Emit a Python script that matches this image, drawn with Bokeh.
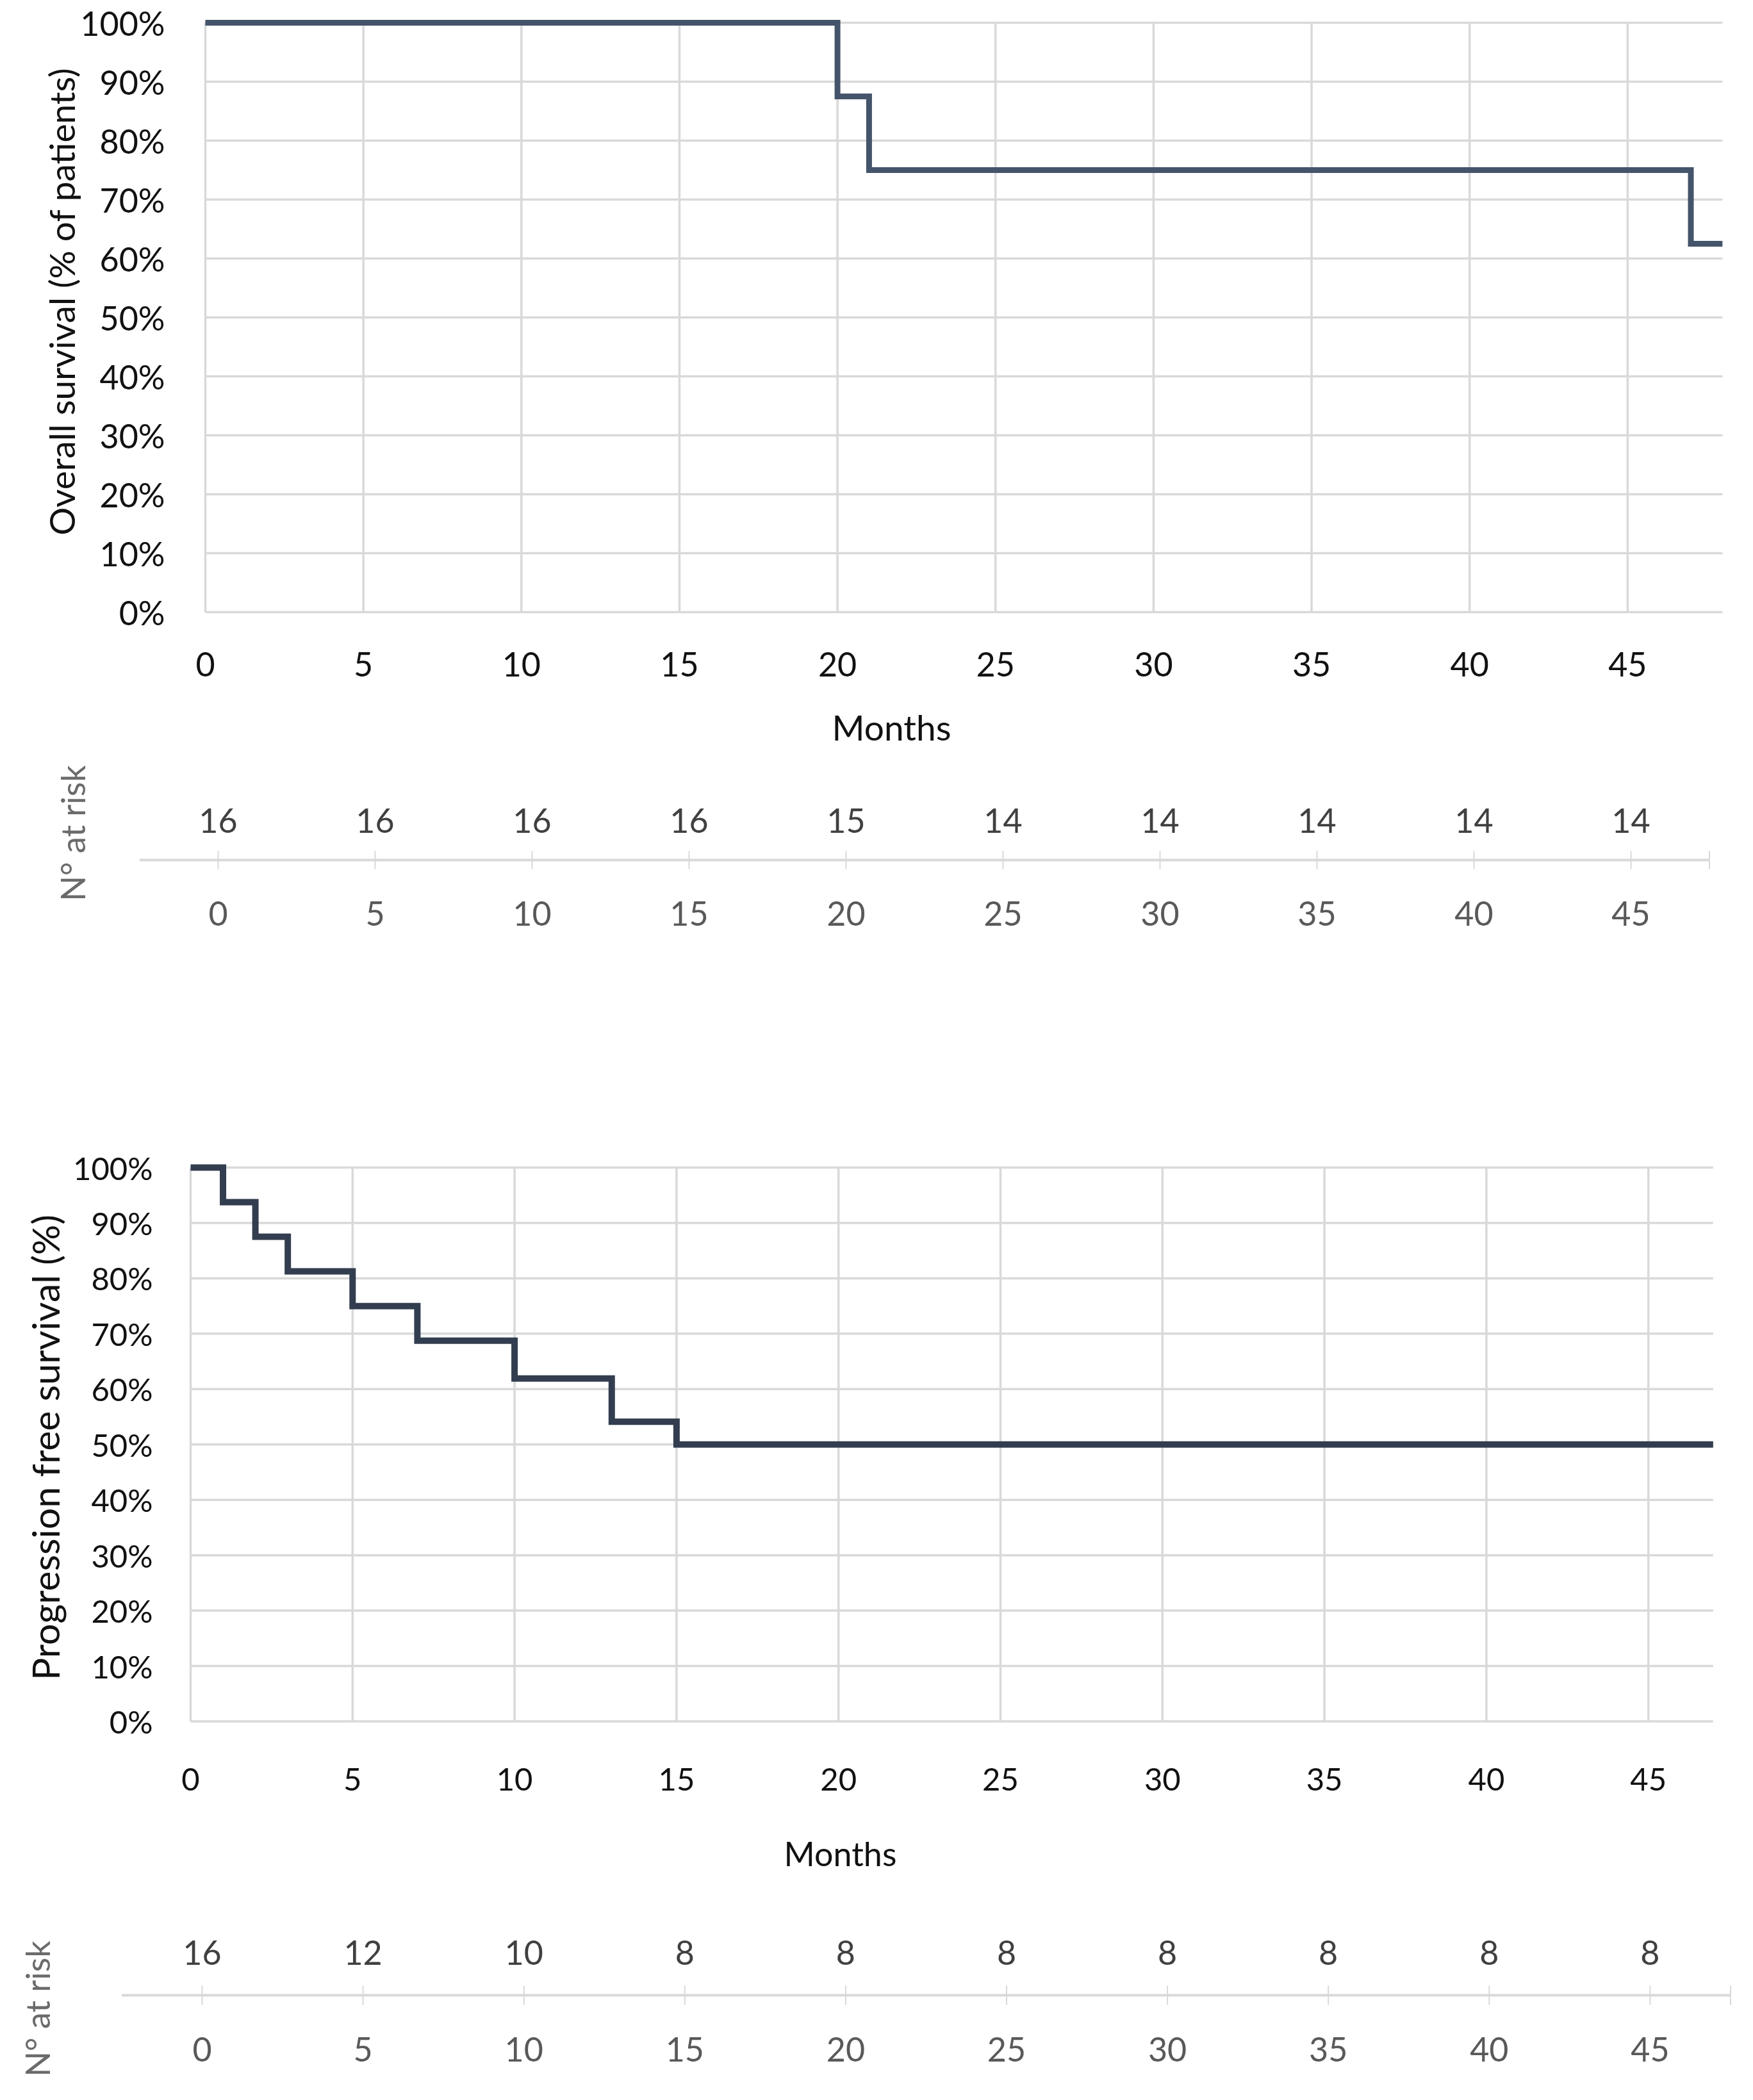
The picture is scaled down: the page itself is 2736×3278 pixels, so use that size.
import math
from bokeh.plotting import figure
from bokeh.models import Range1d
from bokeh.layouts import column
from bokeh.embed import file_html
from bokeh.resources import INLINE
from bokeh.core.properties import value

# ---------------- data ----------------
os_time = [0, 20, 21, 47, 48]
os_surv = [1.0, 0.875, 0.75, 0.625, 0.625]

pfs_time = [0, 1, 2, 3, 5, 7, 10, 13, 15, 47]
pfs_surv = [1.0, 0.9375, 0.875, 0.8125, 0.75, 0.6875, 0.619, 0.541, 0.50, 0.50]

risk_months = [0, 5, 10, 15, 20, 25, 30, 35, 40, 45]
os_at_risk = [16, 16, 16, 16, 15, 14, 14, 14, 14, 14]
pfs_at_risk = [16, 12, 10, 8, 8, 8, 8, 8, 8, 8]

x_ticks = [0, 5, 10, 15, 20, 25, 30, 35, 40, 45]
x_tick_labels = ["0", "5", "10", "15", "20", "25", "30", "35", "40", "45"]
y_ticks = [0.0, 0.1, 0.2, 0.3, 0.4, 0.5, 0.6, 0.7, 0.8, 0.9, 1.0]
y_tick_labels = ["0%", "10%", "20%", "30%", "40%", "50%", "60%", "70%", "80%", "90%", "100%"]

os_ytitle = "Overall survival (% of patients)"
pfs_ytitle = "Progression free survival (%)"
xtitle = "Months"
risk_title = "N° at risk"

# ---------------- style ----------------
FONT = "Lato"
GRID = "#D9D9D9"
TXT = "#111111"
PAGE_L, PAGE_R = 0, 2720
W = PAGE_R - PAGE_L


class Panel:
    """One figure; maps page pixels to data coordinates (x0: page x of month 0,
    sx: px per month, y0: page y of value 0, sy: px per unit)."""

    def __init__(self, top, bottom, x0, sx, y0, sy):
        self.x0, self.sx, self.y0, self.sy = x0, sx, y0, sy
        self.fig = figure(width=W, height=bottom - top,
                          x_range=Range1d((PAGE_L - x0) / sx, (PAGE_R - x0) / sx),
                          y_range=Range1d((y0 - bottom) / sy, (y0 - top) / sy),
                          x_axis_type=None, y_axis_type=None, min_border=0,
                          output_backend="svg", toolbar_location=None)
        self.fig.outline_line_color = None
        self.fig.grid.visible = False

    def px(self, page_x):
        return (page_x - self.x0) / self.sx

    def py(self, page_y):
        return (self.y0 - page_y) / self.sy

    def text(self, x, y, txt, size, color=TXT, align="center", angle=0.0):
        self.fig.text(x=x, y=y, text=txt, angle=angle, text_font=value(FONT),
                      text_font_size=value(size), text_color=color,
                      text_align=align, text_baseline="middle")


def km_chart(panel, time, surv, xmax, ytitle, line_color, line_w, tick_fs, title_fs,
             months_fs, xlab_y, ylab_right, ytitle_xy, months_xy):
    p = panel.fig
    n = len(x_ticks)
    m = len(y_ticks)
    p.segment(x0=x_ticks, x1=x_ticks, y0=[0] * n, y1=[1] * n,
              line_color=GRID, line_width=3.5)
    p.segment(x0=[0] * m, x1=[xmax] * m, y0=y_ticks, y1=y_ticks,
              line_color=GRID, line_width=3.5)
    p.step(time, surv, mode="after", line_color=line_color, line_width=line_w,
           line_join="miter")
    panel.text(x_ticks, [panel.py(xlab_y)] * n, x_tick_labels, tick_fs)
    panel.text([panel.px(ylab_right)] * m, y_ticks, y_tick_labels, tick_fs, align="right")
    panel.text([panel.px(ytitle_xy[0])], [panel.py(ytitle_xy[1])], [ytitle], title_fs,
               angle=math.pi / 2)
    panel.text([panel.px(months_xy[0])], [panel.py(months_xy[1])], [xtitle], months_fs)


def risk_table(panel, counts, lab_y, tick_h, title_xy):
    p = panel.fig
    n = len(risk_months)
    ends = [-2.5, 47.5]
    p.segment(x0=[ends[0]], x1=[ends[1]], y0=[0], y1=[0], line_color=GRID, line_width=4)
    tx = risk_months + [ends[1]]
    h = tick_h / panel.sy
    p.segment(x0=tx, x1=tx, y0=[-h] * len(tx), y1=[h] * len(tx),
              line_color=GRID, line_width=2)
    panel.text(risk_months, [1] * n, [str(c) for c in counts], "52px", color="#404040")
    panel.text(risk_months, [panel.py(lab_y)] * n, x_tick_labels, "52px", color="#595959")
    panel.text([panel.px(title_xy[0])], [panel.py(title_xy[1])], [risk_title], "52px",
               color="#6b6b6b", angle=math.pi / 2)


# OS chart (page y 0..1190)
A = Panel(0, 1190, x0=320, sx=49.33, y0=955, sy=920)
km_chart(A, os_time, os_surv, 48, os_ytitle, "#44546A", 9, "52px", "55px", "55px",
         xlab_y=1036, ylab_right=257, ytitle_xy=(95, 470), months_xy=(1391, 1134))

# OS risk table (page y 1190..1520): line at y=0, counts row at y=1
B = Panel(1190, 1520, x0=340, sx=49.0, y0=1342, sy=62)
risk_table(B, os_at_risk, lab_y=1425, tick_h=14, title_xy=(112, 1300))

# PFS chart (page y 1520..2960)
C = Panel(1520, 2960, x0=297, sx=50.56, y0=2686.5, sy=864.5)
km_chart(C, pfs_time, pfs_surv, 47, pfs_ytitle, "#323E4F", 10, "49px", "59px", "52px",
         xlab_y=2777, ylab_right=238, ytitle_xy=(70, 2259), months_xy=(1311, 2892))

# PFS risk table (page y 2960..3262)
D = Panel(2960, 3262, x0=315, sx=50.22, y0=3114, sy=67)
risk_table(D, pfs_at_risk, lab_y=3198, tick_h=15, title_xy=(57, 3135))

layout = column(A.fig, B.fig, C.fig, D.fig, spacing=0)
open("out.html", "w").write(file_html(layout, INLINE))
